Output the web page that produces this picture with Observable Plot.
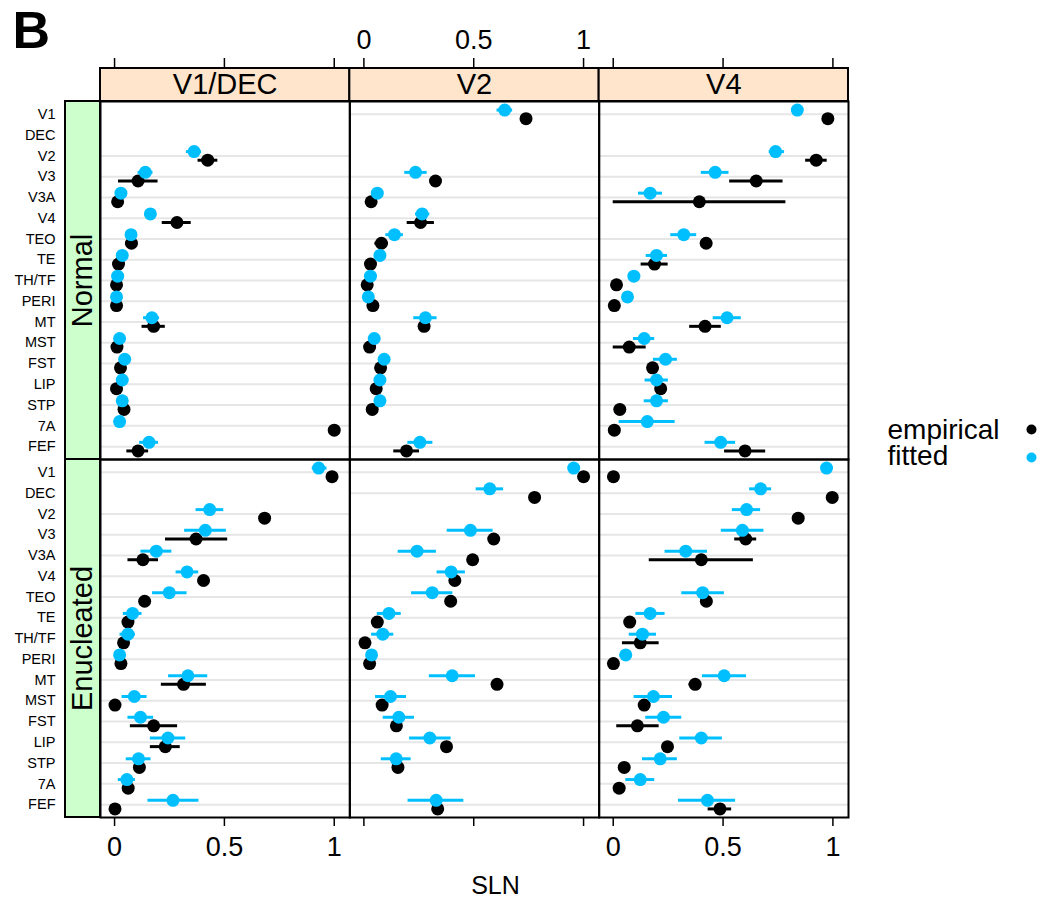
<!DOCTYPE html>
<html><head><meta charset="utf-8">
<script src="https://cdn.jsdelivr.net/npm/d3@7"></script>
<script src="https://cdn.jsdelivr.net/npm/@observablehq/plot@0.6"></script>
<style>body{margin:0;background:#fff;} #chart{width:1043px;height:898px;}</style>
</head><body><div id="chart"></div>
<script>
const areas = ["V1","DEC","V2","V3","V3A","V4","TEO","TE","TH/TF","PERI","MT","MST","FST","LIP","STP","7A","FEF"];
const targets = ["V1/DEC","V2","V4"];
const conditions = ["Normal","Enucleated"];
const seriesNames = ["empirical","fitted"];
const seriesColors = ["#000000","#00bfff"];
const xTicks = [0, 0.5, 1];
const xTickLabels = ["0","0.5","1"];

// [value, lo, hi] per area (null = no estimate)
const normalV1DecEmp = [null,null,[0.424,0.38,0.47],[0.107,0.018,0.198],[0.014],[0.284,0.217,0.349],[0.077,0.05,0.105],[0.018],[0.009],[0.009],[0.178,0.125,0.231],[0.011],[0.027],[0.009],[0.043],[1.0],[0.107,0.056,0.155]];
const normalV1DecFit = [null,null,[0.362,0.327,0.396],[0.140,0.107,0.175],[0.029],[0.163],[0.075],[0.035],[0.014],[0.009],[0.170,0.132,0.205],[0.023],[0.046],[0.035],[0.035],[0.023],[0.157,0.114,0.2]];
const normalV2Emp = [[0.738],null,null,[0.326],[0.033],[0.258,0.197,0.321],[0.080,0.05,0.11],[0.030],[0.015],[0.041],[0.274],[0.026],[0.076],[0.056],[0.038],null,[0.194,0.136,0.253]];
const normalV2Fit = [[0.641,0.606,0.677],null,null,[0.235,0.186,0.288],[0.061],[0.265,0.235,0.30],[0.139,0.10,0.18],[0.073],[0.030],[0.020],[0.280,0.227,0.333],[0.047],[0.092],[0.073],[0.073],null,[0.255,0.2,0.314]];
const normalV4Emp = [[0.977],null,[0.924,0.876,0.974],[0.651,0.530,0.773],[0.392,0.0,0.786],null,[0.423],[0.188,0.127,0.25],[0.015],[0.005],[0.418,0.348,0.492],[0.073,0.0,0.150],[0.179],[0.216],[0.030,0.005,0.055],[0.005],[0.6,0.507,0.694]];
const normalV4Fit = [[0.838],null,[0.739,0.71,0.78],[0.464,0.401,0.527],[0.168,0.115,0.224],null,[0.321,0.262,0.380],[0.197,0.15,0.247],[0.094],[0.065],[0.518,0.455,0.583],[0.141,0.092,0.189],[0.238,0.183,0.292],[0.197,0.145,0.251],[0.197,0.141,0.251],[0.155,0.027,0.282],[0.489,0.418,0.557]];
const enucV1DecEmp = [[0.990],null,[0.683],[0.371,0.232,0.515],[0.129,0.061,0.2],[0.405],[0.137],[0.061],[0.041],[0.029],[0.314,0.213,0.418],[0.002],[0.178,0.072,0.287],[0.231,0.163,0.299],[0.113],[0.062],[0.002]];
const enucV1DecFit = [[0.929,0.9,0.967],null,[0.433,0.371,0.497],[0.413,0.319,0.509],[0.190,0.120,0.261],[0.330,0.280,0.383],[0.249,0.173,0.330],[0.082,0.04,0.125],[0.061,0.025,0.095],[0.023],[0.334,0.246,0.424],[0.090,0.034,0.148],[0.118,0.061,0.178],[0.243,0.163,0.324],[0.109,0.053,0.166],[0.056,0.017,0.095],[0.266,0.152,0.384]];
const enucV2Emp = [[1.0],[0.777],null,[0.591],[0.495],[0.414],[0.395],[0.061],[0.005],[0.026],[0.606],[0.083],[0.148],[0.376],[0.155],null,[0.336]];
const enucV2Fit = [[0.955],[0.573,0.511,0.636],null,[0.485,0.379,0.588],[0.242,0.156,0.330],[0.397,0.333,0.462],[0.311,0.217,0.405],[0.114,0.061,0.170],[0.086,0.035,0.136],[0.035],[0.402,0.298,0.508],[0.121,0.053,0.194],[0.159,0.088,0.230],[0.3,0.208,0.397],[0.147,0.079,0.215],null,[0.329,0.201,0.455]];
const enucV4Emp = [[0.001],[0.997],[0.842],[0.603,0.553,0.653],[0.401,0.164,0.638],null,[0.424],[0.075],[0.123,0.042,0.209],[0.001],[0.373,0.345,0.40],[0.141],[0.110,0.016,0.209],[0.247],[0.05],[0.027],[0.486,0.432,0.539]];
const enucV4Fit = [[0.971],[0.671,0.621,0.721],[0.607,0.542,0.671],[0.588,0.492,0.686],[0.330,0.236,0.429],null,[0.407,0.312,0.506],[0.168,0.103,0.236],[0.133,0.073,0.197],[0.057,0.03,0.085],[0.505,0.406,0.607],[0.183,0.095,0.27],[0.229,0.148,0.312],[0.401,0.303,0.497],[0.214,0.133,0.292],[0.123,0.057,0.189],[0.429,0.297,0.557]];

const panels = [
  {condition:"Normal", target:"V1/DEC", empirical: normalV1DecEmp, fitted: normalV1DecFit},
  {condition:"Normal", target:"V2", empirical: normalV2Emp, fitted: normalV2Fit},
  {condition:"Normal", target:"V4", empirical: normalV4Emp, fitted: normalV4Fit},
  {condition:"Enucleated", target:"V1/DEC", empirical: enucV1DecEmp, fitted: enucV1DecFit},
  {condition:"Enucleated", target:"V2", empirical: enucV2Emp, fitted: enucV2Fit},
  {condition:"Enucleated", target:"V4", empirical: enucV4Emp, fitted: enucV4Fit}
];

const rows = [];
const gridRows = [];
for (const p of panels) {
  areas.forEach((a, i) => {
    if (p.empirical[i] || p.fitted[i]) gridRows.push({condition: p.condition, target: p.target, area: a});
  });
  for (const s of seriesNames) {
    p[s].forEach((d, i) => {
      if (!d) return;
      rows.push({condition: p.condition, target: p.target, area: areas[i], series: s,
                 value: d[0], lo: d.length > 1 ? d[1] : null, hi: d.length > 2 ? d[2] : null});
    });
  }
}

const panelH = (898 - 101 - 81) / 2;
const panelW = (1043 - 100 - 195) / 3;
const offsets = {empirical: 4.3, fitted: -4.3};

const seriesMarks = seriesNames.flatMap((s, k) => [
  Plot.ruleY(rows.filter(r => r.series === s && r.lo != null), {fx: "target", fy: "condition", y: "area", x1: "lo", x2: "hi", stroke: seriesColors[k], strokeWidth: 3, dy: offsets[s]}),
  Plot.dot(rows.filter(r => r.series === s), {fx: "target", fy: "condition", x: "value", y: "area", r: 6.5, fill: seriesColors[k], stroke: "none", dy: offsets[s]})
]);

const topStrips = targets.map(t => ({target: t, condition: "Normal"}));
const leftStrips = conditions.map(c => ({target: "V1/DEC", condition: c}));
const yLabels = conditions.flatMap(c => areas.map(a => ({target: "V1/DEC", condition: c, area: a})));
const topTickRows = targets.flatMap(t => xTicks.map((v, i) => ({target: t, condition: "Normal", v, label: xTickLabels[i]})));
const bottomTickRows = targets.flatMap(t => xTicks.map((v, i) => ({target: t, condition: "Enucleated", v, label: xTickLabels[i]})));
const topLabelRows = topTickRows.filter(d => d.target === "V2");
const bottomLabelRows = bottomTickRows.filter(d => d.target !== "V2");
const legendRows = seriesNames.map((s, k) => ({target: "V4", condition: "Normal", series: s, color: seriesColors[k], k}));

const chart = Plot.plot({
  width: 1043, height: 898,
  marginLeft: 100, marginRight: 195, marginTop: 101, marginBottom: 81,
  style: {fontFamily: "'Liberation Sans', Arial, Helvetica, sans-serif", background: "white", color: "black"},
  fx: {domain: targets, padding: 0, round: false, axis: null},
  fy: {domain: conditions, padding: 0, round: false, axis: null},
  x: {domain: [-0.064, 1.071], axis: null},
  y: {type: "point", domain: areas, padding: 0.62, round: false, axis: null},
  marks: [
    Plot.ruleY(gridRows, {fx: "target", fy: "condition", y: "area", stroke: "#e6e6e6", strokeWidth: 2}),
    ...seriesMarks,
    Plot.frame({stroke: "black", strokeWidth: 2}),
    // strips
    Plot.rect(topStrips, {fx: "target", fy: "condition", fill: "#ffe5cc", stroke: "black", strokeWidth: 2, insetTop: -33, insetBottom: panelH}),
    Plot.text(topStrips, {fx: "target", fy: "condition", text: "target", frameAnchor: "top", lineAnchor: "middle", dy: -16.5, fontSize: 29}),
    Plot.rect(leftStrips, {fx: "target", fy: "condition", fill: "#ccffcc", stroke: "black", strokeWidth: 2, insetLeft: -35, insetRight: panelW}),
    Plot.text(leftStrips, {fx: "target", fy: "condition", text: "condition", frameAnchor: "left", textAnchor: "middle", lineAnchor: "middle", dx: -17.5, rotate: -90, fontSize: 29}),
    // y labels
    Plot.text(yLabels, {fx: "target", fy: "condition", y: "area", text: "area", frameAnchor: "left", dx: -45, textAnchor: "end", lineAnchor: "middle", fontSize: 14.5}),
    // x ticks and labels
    Plot.ruleX(topTickRows, {fx: "target", fy: "condition", x: "v", stroke: "black", strokeWidth: 1.5, insetTop: -43, insetBottom: panelH + 33}),
    Plot.text(topLabelRows, {fx: "target", fy: "condition", x: "v", text: "label", frameAnchor: "top", lineAnchor: "middle", dy: -61, fontSize: 27}),
    Plot.ruleX(bottomTickRows, {fx: "target", fy: "condition", x: "v", stroke: "black", strokeWidth: 1.5, insetTop: panelH, insetBottom: -9}),
    Plot.text(bottomLabelRows, {fx: "target", fy: "condition", x: "v", text: "label", frameAnchor: "bottom", lineAnchor: "middle", dy: 30, fontSize: 27}),
    Plot.text([{target: "V2", condition: "Enucleated"}], {fx: "target", fy: "condition", text: () => "SLN", frameAnchor: "bottom", lineAnchor: "middle", dy: 68, dx: 21, fontSize: 25}),
    // legend
    Plot.text(legendRows.filter(d => d.k === 0), {fx: "target", fy: "condition", text: "series", frameAnchor: "bottom-right", textAnchor: "start", lineAnchor: "middle", dx: 39, dy: -29, fontSize: 28}),
    Plot.text(legendRows.filter(d => d.k === 1), {fx: "target", fy: "condition", text: "series", frameAnchor: "bottom-right", textAnchor: "start", lineAnchor: "middle", dx: 39, dy: -3, fontSize: 28}),
    Plot.dot(legendRows.filter(d => d.k === 0), {fx: "target", fy: "condition", frameAnchor: "bottom-right", dx: 183, dy: -30, r: 5, fill: "color"}),
    Plot.dot(legendRows.filter(d => d.k === 1), {fx: "target", fy: "condition", frameAnchor: "bottom-right", dx: 183, dy: -2, r: 5, fill: "color"}),
    // panel letter
    Plot.text([{target: "V1/DEC", condition: "Normal"}], {fx: "target", fy: "condition", text: () => "B", frameAnchor: "top-left", lineAnchor: "middle", dx: -88, dy: -70, textAnchor: "start", fontSize: 52, fontWeight: "bold"})
  ]
});
document.getElementById("chart").appendChild(chart);
</script>
</body></html>
